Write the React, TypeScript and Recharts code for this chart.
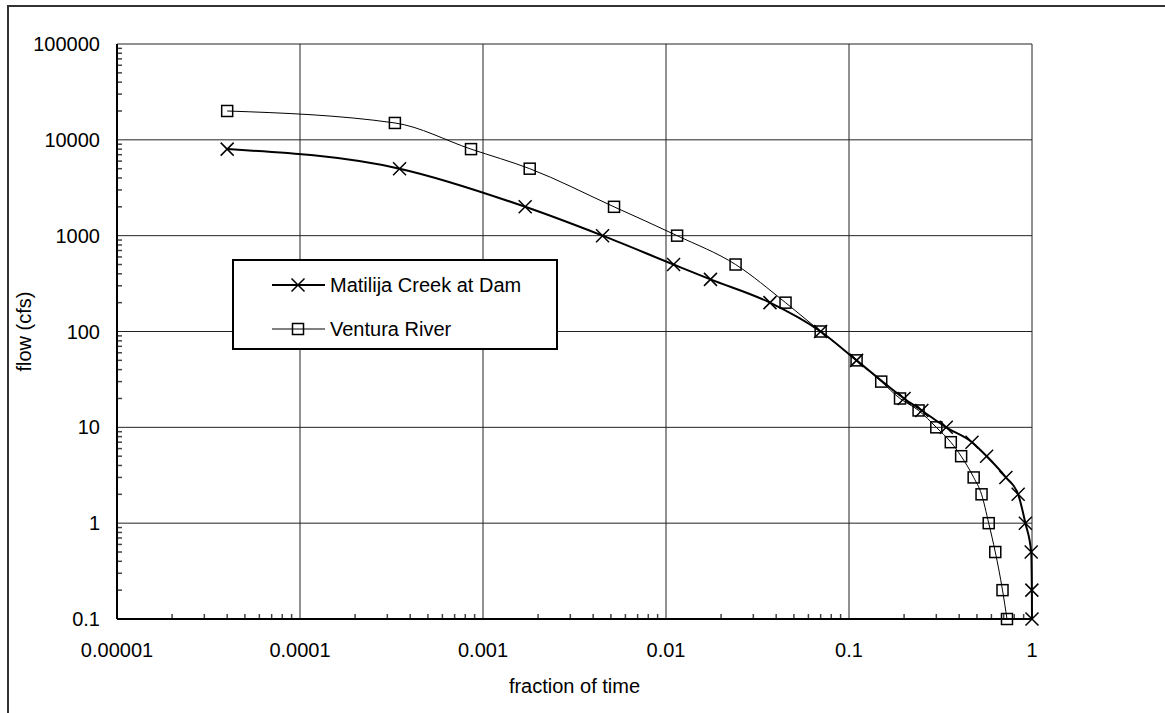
import { LineChart, Line, XAxis, YAxis, CartesianGrid, ReferenceLine, Legend } from 'recharts';

// axis ticks
const xTicks = [0.00001, 0.0001, 0.001, 0.01, 0.1, 1];
const yTicks = [0.1, 1, 10, 100, 1000, 10000, 100000];
const minorSteps = [2, 3, 4, 5, 6, 7, 8, 9];

// Matilija Creek at Dam (fraction of time, flow cfs)
const matilijaX = [0.00004, 0.00035, 0.0017, 0.0045, 0.011, 0.0175, 0.037, 0.07, 0.11, 0.2, 0.25, 0.34, 0.47, 0.565, 0.72, 0.84, 0.92, 0.99, 0.998, 1];
const matilijaY = [8000, 5000, 2000, 1000, 500, 350, 200, 100, 50, 20, 15, 10, 7, 5, 3, 2, 1, 0.5, 0.2, 0.1];

// Ventura River
const venturaX = [0.00004, 0.00033, 0.00086, 0.0018, 0.0052, 0.0115, 0.024, 0.045, 0.07, 0.11, 0.15, 0.19, 0.24, 0.3, 0.36, 0.41, 0.48, 0.53, 0.58, 0.63, 0.69, 0.73];
const venturaY = [20000, 15000, 8000, 5000, 2000, 1000, 500, 200, 100, 50, 30, 20, 15, 10, 7, 5, 3, 2, 1, 0.5, 0.2, 0.1];

const seriesNames = ['Matilija Creek at Dam', 'Ventura River'];

const matilija = matilijaX.map((x, i) => ({ x, y: matilijaY[i] }));
const ventura = venturaX.map((x, i) => ({ x, y: venturaY[i] }));

const font = '"Liberation Sans", Arial, sans-serif';
const tickStyle = { fill: '#000', fontSize: 20, fontFamily: font };

// inward minor tick length, expressed in data units (5px)
const xTickFactor = 10 ** (5 / 183);
const yTickFactor = 10 ** (5 / 96);

const xMinor: number[] = [];
for (let d = -5; d < 0; d++) minorSteps.forEach((m) => xMinor.push(m * 10 ** d));
const yMinor: number[] = [];
for (let d = -1; d < 5; d++) minorSteps.forEach((m) => yMinor.push(m * 10 ** d));

const Cross = ({ cx, cy }: any) => (
  <path
    d={`M${cx - 6.5},${cy - 6.5}L${cx + 6.5},${cy + 6.5}M${cx - 6.5},${cy + 6.5}L${cx + 6.5},${cy - 6.5}`}
    stroke="#000"
    strokeWidth={1.5}
    fill="none"
  />
);

const Square = ({ cx, cy }: any) => (
  <rect x={cx - 5.5} y={cy - 5.5} width={11} height={11} stroke="#000" strokeWidth={1.5} fill="none" />
);

const LegendBox = () => (
  <div
    style={{
      position: 'relative',
      width: 326,
      height: 91,
      boxSizing: 'border-box',
      border: '2px solid #000',
      background: '#fff',
      fontFamily: font,
      fontSize: 20,
      color: '#000',
    }}
  >
    {seriesNames.map((name, i) => (
      <div key={name} style={{ position: 'absolute', left: 36, top: 12 + i * 44, height: 24, display: 'flex', alignItems: 'center' }}>
        <svg width={56} height={24}>
          <line x1={2} y1={12} x2={55} y2={12} stroke="#000" strokeWidth={i === 0 ? 2 : 1} />
          {i === 0 ? <Cross cx={28} cy={12} /> : <Square cx={28} cy={12} />}
        </svg>
        <span style={{ marginLeft: 4, whiteSpace: 'nowrap' }}>{name}</span>
      </div>
    ))}
  </div>
);

export default function App() {
  return (
    <div style={{ position: 'absolute', left: 0, top: 0, width: 1165, height: 713, overflow: 'hidden', background: '#fff' }}>
      <div
        style={{
          position: 'absolute',
          left: 7,
          top: 5,
          width: 1300,
          height: 900,
          borderTop: '2px solid #333',
          borderLeft: '2px solid #333',
        }}
      />
      <div style={{ position: 'absolute', left: 0, top: 0 }}>
        <LineChart width={1165} height={713} margin={{ top: 44, right: 133, bottom: 0, left: 17 }}>
          <CartesianGrid stroke="#222" strokeWidth={1} />
          <XAxis
            dataKey="x"
            type="number"
            scale="log"
            domain={[0.00001, 1]}
            ticks={xTicks}
            tickFormatter={(v) => String(v)}
            tick={tickStyle}
            tickLine={false}
            tickSize={0}
            tickMargin={24}
            height={94}
            axisLine={{ stroke: '#000', strokeWidth: 2 }}
            label={{ value: 'fraction of time', position: 'insideBottom', offset: 20, fill: '#000', fontSize: 20, fontFamily: font }}
          />
          <YAxis
            dataKey="y"
            type="number"
            scale="log"
            domain={[0.1, 100000]}
            ticks={yTicks}
            tickFormatter={(v) => String(v)}
            tick={tickStyle}
            tickLine={false}
            tickSize={0}
            tickMargin={17}
            width={100}
            axisLine={{ stroke: '#000', strokeWidth: 2 }}
            label={{
              value: 'flow (cfs)',
              angle: -90,
              position: 'insideLeft',
              offset: 7,
              fill: '#000',
              fontSize: 20,
              fontFamily: font,
              style: { textAnchor: 'middle' },
            }}
          />
          {xMinor.map((v) => (
            <ReferenceLine
              key={`xm${v}`}
              segment={[{ x: v, y: 0.1 }, { x: v, y: 0.1 * yTickFactor }]}
              stroke="#444"
              strokeWidth={1.5}
            />
          ))}
          {yMinor.map((v) => (
            <ReferenceLine
              key={`ym${v}`}
              segment={[{ x: 0.00001, y: v }, { x: 0.00001 * xTickFactor, y: v }]}
              stroke="#444"
              strokeWidth={1.5}
            />
          ))}
          <Line
            data={ventura}
            dataKey="y"
            name={seriesNames[1]}
            type="monotone"
            stroke="#000"
            strokeWidth={1}
            dot={(p: any) => <Square key={`v${p.index}`} cx={p.cx} cy={p.cy} />}
            activeDot={false}
            isAnimationActive={false}
          />
          <Line
            data={matilija}
            dataKey="y"
            name={seriesNames[0]}
            type="monotone"
            stroke="#000"
            strokeWidth={2}
            dot={(p: any) => <Cross key={`m${p.index}`} cx={p.cx} cy={p.cy} />}
            activeDot={false}
            isAnimationActive={false}
          />
          <Legend
            layout="vertical"
            align="center"
            verticalAlign="middle"
            content={() => <LegendBox />}
            wrapperStyle={{ left: 232, top: 259, width: 326, height: 91 }}
          />
        </LineChart>
      </div>
    </div>
  );
}
